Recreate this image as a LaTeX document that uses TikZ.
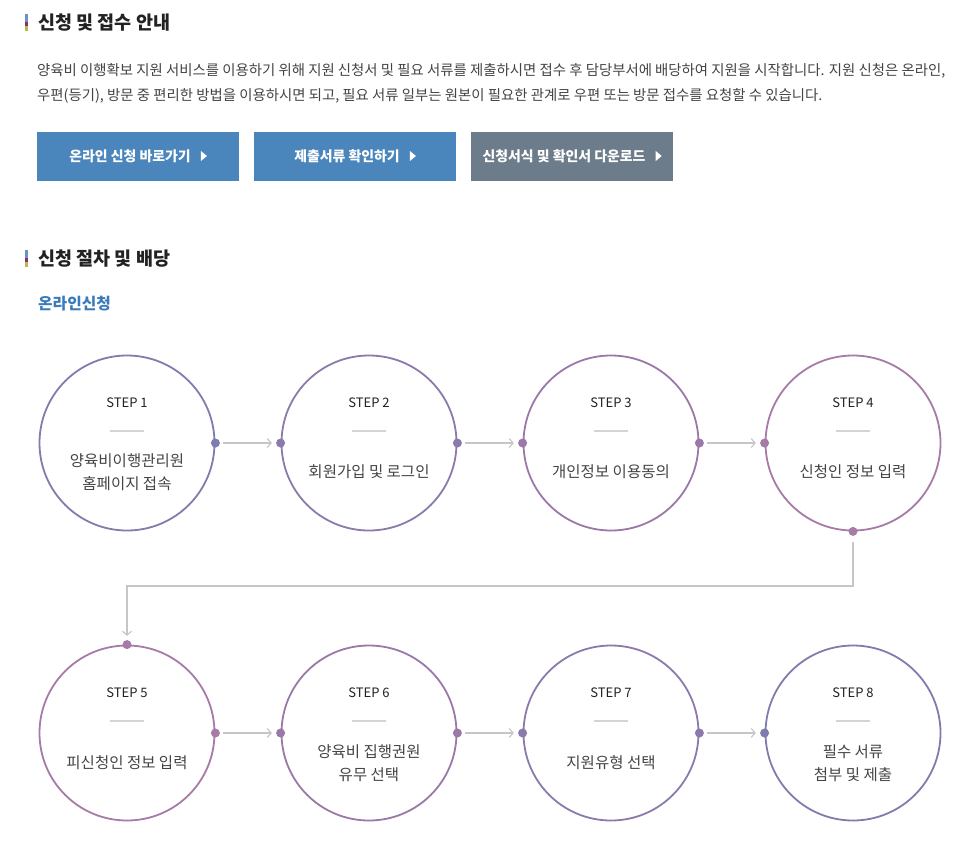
\documentclass[tikz,border=0pt]{standalone}
\usepackage{fontspec}
\setmainfont{Noto Sans CJK KR}
\usetikzlibrary{arrows.meta,positioning,calc}
\definecolor{stepa}{HTML}{7F7DAD}
\definecolor{stepb}{HTML}{8B7AAB}
\definecolor{stepc}{HTML}{9A79A9}
\definecolor{stepd}{HTML}{A77AA7}
\definecolor{btnblue}{HTML}{4A86BB}
\definecolor{btngray}{HTML}{6C7C8A}
\definecolor{barblue}{HTML}{6A93C0}
\definecolor{barpurple}{HTML}{8E2F6E}
\definecolor{barolive}{HTML}{B9B84A}
\definecolor{titletext}{HTML}{222222}
\definecolor{bodytext}{HTML}{444444}
\definecolor{linkblue}{HTML}{3A7BBA}
\definecolor{sepgray}{HTML}{D4D4D4}
\definecolor{arrowgray}{HTML}{C6C6C6}

\begin{document}
\begin{tikzpicture}[x=1pt,y=-1pt,
    title/.style={anchor=west,inner sep=0pt,text=titletext,font=\bfseries\fontsize{18.5}{22}\selectfont},
    para/.style={anchor=west,inner sep=0pt,text=bodytext,font=\fontsize{14.4}{17}\selectfont},
    btn/.style={rectangle,minimum width=202pt,minimum height=49pt,inner sep=0pt},
    btntext/.style={inner sep=0pt,text=white,font=\bfseries\fontsize{13.9}{16}\selectfont},
    stepcircle/.style={circle,draw,line width=1.8pt,minimum size=175pt,inner sep=0pt},
    stepdot/.style={circle,inner sep=0pt,minimum size=9pt},
    steplabel/.style={inner sep=0pt,text=titletext,font=\fontsize{13}{15}\selectfont},
    sepbar/.style={rectangle,fill=sepgray,inner sep=0pt,minimum width=34pt,minimum height=1.7pt},
    steptext/.style={align=center,inner sep=0pt,text=bodytext,font=\fontsize{15.5}{23}\selectfont},
    flow/.style={draw=arrowgray,line width=1.1pt,-{Straight Barb[length=4pt,width=9pt]}}]

    \fill[white] (0,0) rectangle (967,843);
    \useasboundingbox (0,0) rectangle (967,843);

    % Section 1: title
    \fill[barblue] (25,14) rectangle (28,22);
    \fill[barpurple] (25,22) rectangle (28,26);
    \fill[barolive] (25,26) rectangle (28,31);
    \node[title] (head1) at (38,23) {신청 및 접수 안내};

    \node[para] (para1) at (37,71) {양육비 이행확보 지원 서비스를 이용하기 위해 지원 신청서 및 필요 서류를 제출하시면 접수 후 담당부서에 배당하여 지원을 시작합니다. 지원 신청은 온라인,};
    \node[para] (para2) at (37,96) {우편(등기), 방문 중 편리한 방법을 이용하시면 되고, 필요 서류 일부는 원본이 필요한 관계로 우편 또는 방문 접수를 요청할 수 있습니다.};

    % Buttons
    \node[btn,fill=btnblue] (btn1) at (138,156) {};
    \node[btn,fill=btnblue] (btn2) at (355,156) {};
    \node[btn,fill=btngray] (btn3) at (572,156) {};
    \node[btntext] (bt1) at (130,156) {온라인 신청 바로가기};
    \node[btntext] (bt2) at (347,156) {제출서류 확인하기};
    \node[btntext] (bt3) at (564,156) {신청서식 및 확인서 다운로드};
    \fill[white] ([xshift=10pt,yshift=5pt]bt1.east) -- ++(6,5) -- ++(-6,5) -- cycle;
    \fill[white] ([xshift=10pt,yshift=5pt]bt2.east) -- ++(6,5) -- ++(-6,5) -- cycle;
    \fill[white] ([xshift=10pt,yshift=5pt]bt3.east) -- ++(6,5) -- ++(-6,5) -- cycle;

    % Section 2: title
    \fill[barblue] (25,250) rectangle (28,258);
    \fill[barpurple] (25,258) rectangle (28,262);
    \fill[barolive] (25,262) rectangle (28,267);
    \node[title] (head2) at (38,259) {신청 절차 및 배당};
    \node[anchor=west,inner sep=0pt,text=linkblue,font=\bfseries\fontsize{15.8}{18}\selectfont] (online) at (38,304) {온라인신청};

    % Row 1
    \node[stepcircle,draw=stepa] (c1) at (127,443) {};
    \node[stepcircle,draw=stepb] (c2) at (369,443) {};
    \node[stepcircle,draw=stepc] (c3) at (611,443) {};
    \node[stepcircle,draw=stepd] (c4) at (853,443) {};

    \node[steplabel] (s1) at (127,403) {STEP 1};
    \node[steplabel] (s2) at (369,403) {STEP 2};
    \node[steplabel] (s3) at (611,403) {STEP 3};
    \node[steplabel] (s4) at (853,403) {STEP 4};
    \node[sepbar] (l1) at (127,431) {};
    \node[sepbar] (l2) at (369,431) {};
    \node[sepbar] (l3) at (611,431) {};
    \node[sepbar] (l4) at (853,431) {};
    \node[steptext] (t1) at (127,472) {양육비이행관리원\\홈페이지 접속};
    \node[steptext] (t2) at (369,472) {회원가입 및 로그인};
    \node[steptext] (t3) at (611,472) {개인정보 이용동의};
    \node[steptext] (t4) at (853,472) {신청인 정보 입력};

    % Row 2
    \node[stepcircle,draw=stepd] (c5) at (127,733) {};
    \node[stepcircle,draw=stepc] (c6) at (369,733) {};
    \node[stepcircle,draw=stepb] (c7) at (611,733) {};
    \node[stepcircle,draw=stepa] (c8) at (853,733) {};

    \node[steplabel] (s5) at (127,693) {STEP 5};
    \node[steplabel] (s6) at (369,693) {STEP 6};
    \node[steplabel] (s7) at (611,693) {STEP 7};
    \node[steplabel] (s8) at (853,693) {STEP 8};
    \node[sepbar] (l5) at (127,721) {};
    \node[sepbar] (l6) at (369,721) {};
    \node[sepbar] (l7) at (611,721) {};
    \node[sepbar] (l8) at (853,721) {};
    \node[steptext] (t5) at (127,763) {피신청인 정보 입력};
    \node[steptext] (t6) at (369,763) {양육비 집행권원\\유무 선택};
    \node[steptext] (t7) at (611,763) {지원유형 선택};
    \node[steptext] (t8) at (853,763) {필수 서류\\첨부 및 제출};

    % Dots
    \node[stepdot,fill=stepa] (d1r) at (c1.east) {};
    \node[stepdot,fill=stepb] (d2l) at (c2.west) {};
    \node[stepdot,fill=stepb] (d2r) at (c2.east) {};
    \node[stepdot,fill=stepc] (d3l) at (c3.west) {};
    \node[stepdot,fill=stepc] (d3r) at (c3.east) {};
    \node[stepdot,fill=stepd] (d4l) at (c4.west) {};
    \node[stepdot,fill=stepd] (d4b) at (c4.south) {};
    \node[stepdot,fill=stepd] (d5t) at (c5.north) {};
    \node[stepdot,fill=stepd] (d5r) at (c5.east) {};
    \node[stepdot,fill=stepc] (d6l) at (c6.west) {};
    \node[stepdot,fill=stepc] (d6r) at (c6.east) {};
    \node[stepdot,fill=stepb] (d7l) at (c7.west) {};
    \node[stepdot,fill=stepb] (d7r) at (c7.east) {};
    \node[stepdot,fill=stepa] (d8l) at (c8.west) {};

    % Arrows
    \draw[flow,shorten <=3pt,shorten >=4pt] (d1r) -- (d2l);
    \draw[flow,shorten <=3pt,shorten >=4pt] (d2r) -- (d3l);
    \draw[flow,shorten <=3pt,shorten >=4pt] (d3r) -- (d4l);
    \coordinate (turn) at (853,586);
    \draw[flow,shorten <=6pt,shorten >=4pt] (d4b) -- (turn) -| (d5t);
    \draw[flow,shorten <=3pt,shorten >=4pt] (d5r) -- (d6l);
    \draw[flow,shorten <=3pt,shorten >=4pt] (d6r) -- (d7l);
    \draw[flow,shorten <=3pt,shorten >=4pt] (d7r) -- (d8l);
\end{tikzpicture}
\end{document}
